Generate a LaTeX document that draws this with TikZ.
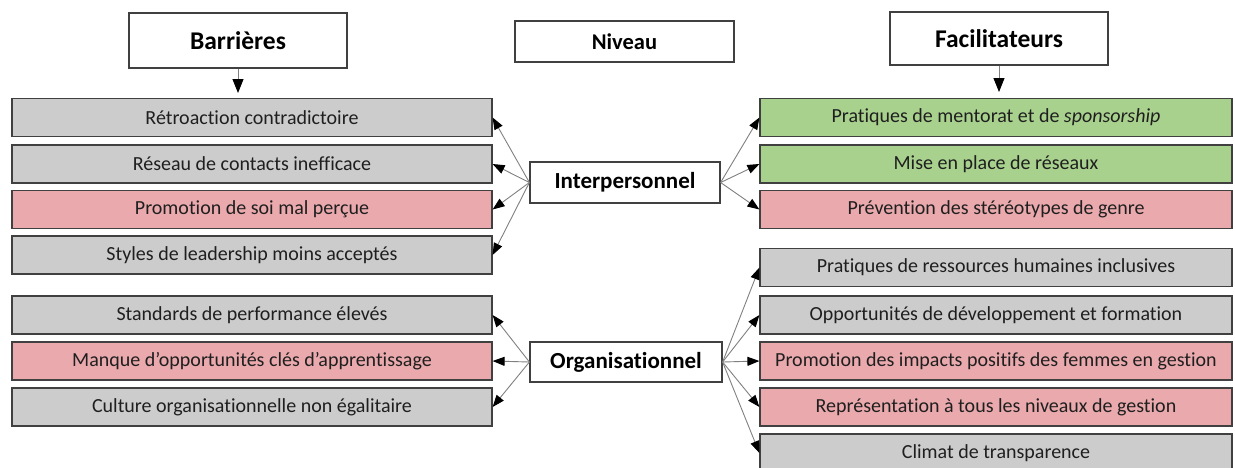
\documentclass[tikz,border=0pt]{standalone}
\usepackage{fontspec}
\setmainfont{Carlito}[Ligatures=NoCommon]
\usetikzlibrary{arrows.meta}
\definecolor{boxgray}{RGB}{204,204,204}
\definecolor{boxpink}{RGB}{234,169,173}
\definecolor{boxgreen}{RGB}{169,209,142}
\definecolor{edge}{RGB}{64,64,64}
\definecolor{linegray}{RGB}{128,128,128}
\tikzset{
  hdr/.style={draw=edge, line width=1.2pt, fill=white, font=\fontsize{25.5}{28}\selectfont\bfseries, inner sep=0pt},
  niv/.style={draw=edge, line width=1.2pt, fill=white, font=\fontsize{22.5}{25}\selectfont\bfseries, inner sep=0pt},
  lvl/.style={draw=edge, line width=1.2pt, fill=white, font=\fontsize{23}{26}\selectfont\bfseries, inner sep=0pt},
  item/.style={draw=edge, line width=1.2pt, minimum height=38pt, inner sep=0pt, font=\fontsize{20}{23}\selectfont, text=black!88},
  lbox/.style={item, minimum width=480pt},
  rbox/.style={item, minimum width=472pt},
  gbox/.style={fill=boxgray},
  pbox/.style={fill=boxpink},
  vbox/.style={fill=boxgreen},
  conn/.style={draw=linegray, line width=0.9pt, -{Triangle[length=12pt,width=9pt,fill=black,color=black]}},
  hconn/.style={draw=linegray, line width=0.9pt, -{Triangle[length=14pt,width=11pt,fill=black,color=black]}},
}
\begin{document}
\begin{tikzpicture}[x=1pt,y=-1pt]
\useasboundingbox (0,0) rectangle (1235,467);
\clip (0,0) rectangle (1235,467);
% headers
\node[hdr, minimum width=218pt, minimum height=55pt] (bar) at (238,40.5) {Barrières};
\node[niv, minimum width=219pt, minimum height=41pt] (niv) at (624.5,41.5) {Niveau};
\node[hdr, minimum width=218pt, minimum height=53pt] (fac) at (999,38.5) {Facilitateurs};
\coordinate (barend) at (238,93);
\coordinate (facend) at (999,92);
\draw[hconn] (bar.south) -- (barend);
\draw[hconn] (fac.south) -- (facend);
% levels
\node[lvl, minimum width=190pt, minimum height=41pt] (inter) at (625,182.5) {Interpersonnel};
\node[lvl, minimum width=192pt, minimum height=40pt] (org) at (626,362) {Organisationnel};
% left boxes
\node[lbox, gbox] (l1) at (252,117.5) {Rétroaction contradictoire};
\node[lbox, gbox] (l2) at (252,164) {Réseau de contacts inefficace};
\node[lbox, pbox] (l3) at (252,209.5) {Promotion de soi mal perçue};
\node[lbox, gbox] (l4) at (252,255) {Styles de leadership moins acceptés};
\node[lbox, gbox] (l5) at (252,315) {Standards de performance élevés};
\node[lbox, pbox] (l6) at (252,361) {Manque d’opportunités clés d’apprentissage};
\node[lbox, gbox] (l7) at (252,407) {Culture organisationnelle non égalitaire};
% right boxes
\node[rbox, vbox] (r1) at (996,117.5) {Pratiques de mentorat et de \textit{sponsorship}};
\node[rbox, vbox] (r2) at (996,164) {Mise en place de réseaux};
\node[rbox, pbox] (r3) at (996,209.5) {Prévention des stéréotypes de genre};
\node[rbox, gbox] (r4) at (996,267.5) {Pratiques de ressources humaines inclusives};
\node[rbox, gbox] (r5) at (996,315) {Opportunités de développement et formation};
\node[rbox, pbox] (r6) at (996,361) {Promotion des impacts positifs des femmes en gestion};
\node[rbox, pbox] (r7) at (996,407) {Représentation à tous les niveaux de gestion};
\node[rbox, gbox] (r8) at (996,453) {Climat de transparence};
% connectors
\foreach \t in {l1,l2,l3,l4} \draw[conn] (inter.west) -- (\t.east);
\foreach \t in {l5,l6,l7} \draw[conn] (org.west) -- (\t.east);
\foreach \t in {r1,r2,r3} \draw[conn] (inter.east) -- (\t.west);
\foreach \t in {r4,r5,r6,r7,r8} \draw[conn] (org.east) -- (\t.west);
\end{tikzpicture}
\end{document}
